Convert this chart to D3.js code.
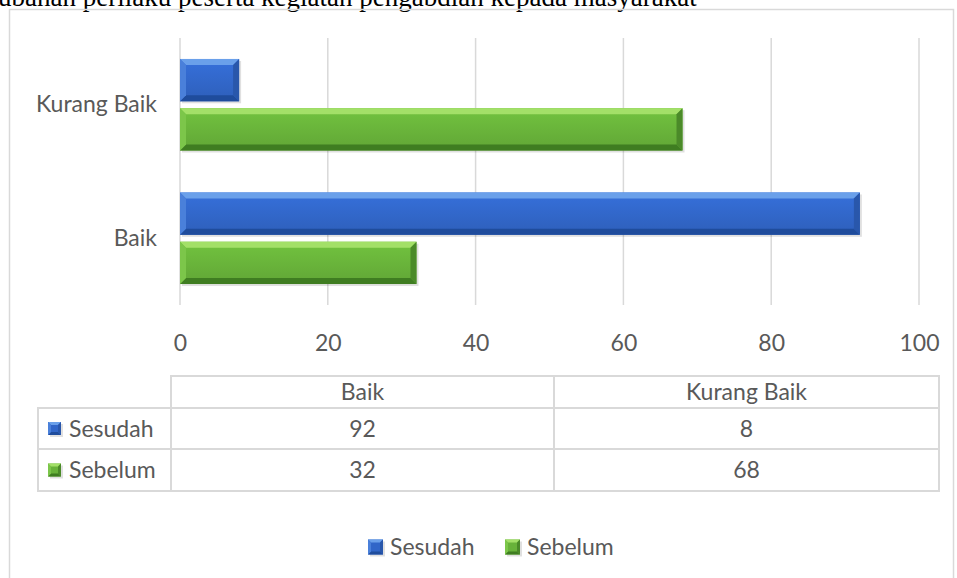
<!DOCTYPE html>
<html>
<head>
<meta charset="utf-8">
<title>Sesudah / Sebelum</title>
<script src="https://cdn.jsdelivr.net/npm/d3@7/dist/d3.min.js"></script>
<style>
  body { margin: 0; background: #fff; }
  svg { display: block; }
  text { font-family: Lato, "Open Sans", sans-serif; fill: #595959; }
</style>
</head>
<body>
<svg id="chart" width="957" height="578"></svg>
<script>
// data
const categories = ["Kurang Baik", "Baik"];
const seriesNames = ["Sesudah", "Sebelum"];
const sesudah = [8, 92];
const sebelum = [68, 32];
const tickValues = [0, 20, 40, 60, 80, 100];
const tableCols = ["Baik", "Kurang Baik"];
const titleText = "Perubahan perilaku peserta kegiatan pengabdian kepada masyarakat";

const colors = {
  Sesudah: { body: "#3166c8", top: "#6aa0ea", bottom: "#1f4c9c", left: "#4a80da", right: "#2957ab" },
  Sebelum: { body: "#68b23a", top: "#a3e068", bottom: "#3f7d21", left: "#7cc64a", right: "#4b8a29" }
};

const svg = d3.select("#chart");

// gradients for bar bodies
const defs = svg.append("defs");
seriesNames.forEach(s => {
  const g = defs.append("linearGradient").attr("id", "g-" + s)
    .attr("x1", 0).attr("y1", 0).attr("x2", 0).attr("y2", 1);
  g.append("stop").attr("offset", "0%").attr("stop-color", d3.color(colors[s].body).brighter(0.25));
  g.append("stop").attr("offset", "100%").attr("stop-color", d3.color(colors[s].body).darker(0.2));
});

// title, clipped at the top of the page
svg.append("text")
  .attr("x", -38).attr("y", 6)
  .style("font-family", "'Liberation Serif', 'Times New Roman', serif")
  .style("font-size", "27px")
  .style("fill", "#000")
  .text(titleText);

// chart frame
svg.append("rect")
  .attr("x", 9.5).attr("y", 9.5)
  .attr("width", 944).attr("height", 620)
  .attr("fill", "none").attr("stroke", "#d9d9d9").attr("stroke-width", 1.5);

// scales
const x = d3.scaleLinear().domain([0, 100]).range([180, 919]);
const y = d3.scaleBand().domain(categories).range([38, 305]);
const ys = d3.scaleBand().domain(seriesNames)
  .range([y.bandwidth() * 0.157, y.bandwidth() * 0.843])
  .paddingInner(0.14);

// grid
svg.append("g").selectAll("line").data(tickValues).join("line")
  .attr("x1", d => x(d)).attr("x2", d => x(d))
  .attr("y1", 38).attr("y2", 305)
  .attr("stroke", "#d9d9d9").attr("stroke-width", 1.5);

// x tick labels
const xAxis = svg.append("g").attr("transform", "translate(0,343)")
  .call(d3.axisBottom(x).tickValues(tickValues).tickSize(0).tickPadding(0));
xAxis.select(".domain").remove();
xAxis.selectAll("text")
  .attr("dy", "0.35em")
  .style("font-size", "23px").style("fill", "#595959")
  .style("font-family", "Lato, sans-serif");

// category labels
const yAxis = svg.append("g").attr("transform", "translate(157,0)")
  .call(d3.axisLeft(y).tickSize(0).tickPadding(0));
yAxis.select(".domain").remove();
yAxis.selectAll("text")
  .style("font-size", "23px").style("fill", "#595959")
  .style("font-family", "Lato, sans-serif");

// bevelled bar
function bevelBar(g, x0, x1, y0, y1, c, grad, b) {
  const pts = a => a.map(p => p.join(",")).join(" ");
  g.append("rect").attr("x", x0 + 2).attr("y", y0 + 2)
    .attr("width", x1 - x0).attr("height", y1 - y0)
    .attr("fill", "#000").attr("opacity", 0.12);
  g.append("rect").attr("x", x0).attr("y", y0)
    .attr("width", x1 - x0).attr("height", y1 - y0)
    .attr("fill", grad ? "url(#" + grad + ")" : c.body);
  g.append("polygon").attr("fill", c.top)
    .attr("points", pts([[x0, y0], [x1, y0], [x1 - b, y0 + b], [x0 + b, y0 + b]]));
  g.append("polygon").attr("fill", c.bottom)
    .attr("points", pts([[x0, y1], [x1, y1], [x1 - b, y1 - b], [x0 + b, y1 - b]]));
  g.append("polygon").attr("fill", c.left)
    .attr("points", pts([[x0, y0], [x0 + b, y0 + b], [x0 + b, y1 - b], [x0, y1]]));
  g.append("polygon").attr("fill", c.right)
    .attr("points", pts([[x1, y0], [x1 - b, y0 + b], [x1 - b, y1 - b], [x1, y1]]));
}

const values = { Sesudah: sesudah, Sebelum: sebelum };
const bars = svg.append("g");
seriesNames.forEach(s => {
  categories.forEach((cat, i) => {
    const y0 = y(cat) + ys(s);
    bevelBar(bars, x(0), x(values[s][i]), y0, y0 + ys.bandwidth(), colors[s], "g-" + s, 6);
  });
});

// data table
const colX = [38, 171, 554, 939];
const rowY = [376, 408, 449, 491];
const tbl = svg.append("g");
const lineStyle = sel => sel.attr("stroke", "#d9d9d9").attr("stroke-width", 2).attr("fill", "none");

// header row (no cell above the series names)
tbl.append("rect").attr("x", colX[1]).attr("y", rowY[0])
  .attr("width", colX[3] - colX[1]).attr("height", rowY[1] - rowY[0]).call(lineStyle);
tbl.append("rect").attr("x", colX[0]).attr("y", rowY[1])
  .attr("width", colX[3] - colX[0]).attr("height", rowY[3] - rowY[1]).call(lineStyle);
tbl.append("line").attr("x1", colX[0]).attr("x2", colX[3])
  .attr("y1", rowY[2]).attr("y2", rowY[2]).call(lineStyle);
[colX[1], colX[2]].forEach(cx => {
  tbl.append("line").attr("x1", cx).attr("x2", cx)
    .attr("y1", rowY[0]).attr("y2", rowY[3]).call(lineStyle);
});

const colMid = i => (colX[i + 1] + colX[i + 2]) / 2;
tbl.selectAll("text.head").data(tableCols).join("text").attr("class", "head")
  .attr("x", (d, i) => colMid(i)).attr("y", (rowY[0] + rowY[1]) / 2)
  .attr("dy", "0.35em").attr("text-anchor", "middle")
  .style("font-size", "23px").text(d => d);

seriesNames.forEach((s, r) => {
  const cy = (rowY[r + 1] + rowY[r + 2]) / 2;
  bevelBar(tbl, 48, 61, cy - 6.5, cy + 6.5, colors[s], null, 3);
  tbl.append("text").attr("x", 69).attr("y", cy).attr("dy", "0.35em")
    .style("font-size", "23px").text(s);
  const byCol = tableCols.map(c => values[s][categories.indexOf(c)]);
  tbl.selectAll("text.v" + r).data(byCol).join("text").attr("class", "v" + r)
    .attr("x", (d, i) => colMid(i)).attr("y", cy)
    .attr("dy", "0.35em").attr("text-anchor", "middle")
    .style("font-size", "23px").text(d => d);
});

// legend
const legend = svg.append("g").attr("transform", "translate(368,547)");
const legX = [0, 137];
seriesNames.forEach((s, i) => {
  bevelBar(legend, legX[i], legX[i] + 15, -7.5, 7.5, colors[s], null, 3);
  legend.append("text").attr("x", legX[i] + 22).attr("y", 0).attr("dy", "0.35em")
    .style("font-size", "23px").text(s);
});
</script>
</body>
</html>
